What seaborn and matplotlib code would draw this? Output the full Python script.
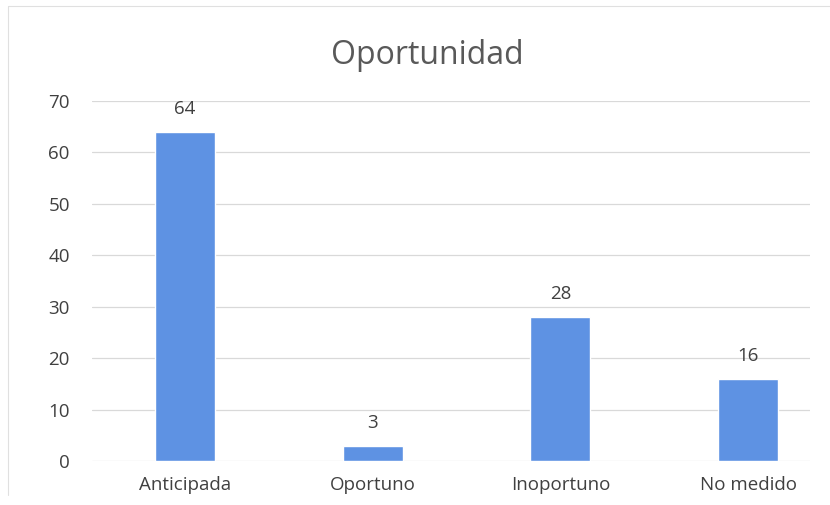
import matplotlib
matplotlib.use("Agg")
import matplotlib.pyplot as plt
import seaborn as sns
import pandas as pd

categories = ["Anticipada", "Oportuno", "Inoportuno", "No medido"]
values = [64, 3, 28, 16]
yticks = [0, 10, 20, 30, 40, 50, 60, 70]

sns.set_theme(style="white")
plt.rcParams['font.family'] = ['Open Sans', 'DejaVu Sans']

df = pd.DataFrame({"cat": categories, "val": values})

fig = plt.figure(figsize=(8.3, 5.05), dpi=100)
ax = fig.add_axes([92/830, 1-461/505, (810-92)/830, (461-101)/505])
sns.barplot(data=df, x="cat", y="val", color="#5E92E3", width=0.32,
            saturation=1, ax=ax, zorder=3)
ax.set_xlim(-0.496, 3.33)
ax.set_ylim(0, 70)
ax.set_yticks(yticks)
ax.set_yticklabels([str(t) for t in yticks])
ax.grid(axis="y", color="#D9D9D9", linewidth=0.9, zorder=0)
for s in ax.spines.values():
    s.set_visible(False)
ax.set_xlabel("")
ax.set_ylabel("")
ax.tick_params(axis="both", length=0, labelsize=13.5, colors="#404040")
ax.tick_params(axis="x", pad=11)
ax.tick_params(axis="y", pad=16)
for lbl in ax.get_yticklabels():
    lbl.set_horizontalalignment("right")
for i, v in enumerate(values):
    ax.annotate(str(v), (i, v), xytext=(0, 10), textcoords="offset points",
                ha="center", va="bottom", fontsize=13.5, color="#404040")
fig.text(427/830, 1-55/505, "Oportunidad", ha="center", va="center",
         fontsize=23, color="#595959")
# chart border (faint)
fig.add_artist(plt.Line2D([8/830, 1], [1-6/505, 1-6/505], color="#E0E0E0", lw=0.8))
fig.add_artist(plt.Line2D([8/830, 8/830], [0.02, 1-6/505], color="#E0E0E0", lw=0.8))
fig.savefig("out.png", dpi=100, facecolor="white")
